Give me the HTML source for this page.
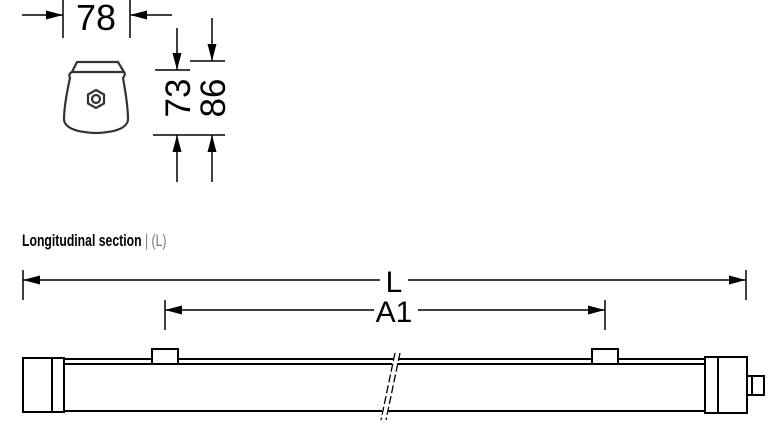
<!DOCTYPE html>
<html><head><style>
body{margin:0;background:#fff;width:772px;height:446px;overflow:hidden}
svg{display:block}
</style></head><body>
<svg width="772" height="446" viewBox="0 0 772 446" xmlns="http://www.w3.org/2000/svg">
<defs>
<marker id="a" viewBox="0 0 10 10" refX="10" refY="5" markerWidth="17" markerHeight="9" markerUnits="userSpaceOnUse" orient="auto" preserveAspectRatio="none"><path d="M0,0L10,5L0,10z" fill="#000"/></marker>
</defs>
<g stroke="#000" stroke-width="1.5" fill="none">
<!-- 78 -->
<line x1="63" y1="0" x2="63" y2="38"/><line x1="130" y1="0" x2="130" y2="38"/>
<line x1="22" y1="15" x2="63" y2="15" marker-end="url(#a)"/>
<line x1="172" y1="15" x2="130" y2="15" marker-end="url(#a)"/>
<!-- profile -->
<g stroke-width="2.2" stroke="#333">
<path d="M77,62 L118,62 L124,72 L72,72 Z"/>
<path d="M72,72 Q68,74 70,78 Q64,105 64,120 Q66,132 96,133 Q126,132 128,120 Q128,105 123,78 Q126,74 124,72"/>
<path d="M96,90 L104,94.5 L104,103.5 L96,108 L88,103.5 L88,94.5 Z"/>
<circle cx="96" cy="99" r="4"/>
</g>
<!-- 73 / 86 -->
<line x1="155" y1="70" x2="190" y2="70"/><line x1="190" y1="61" x2="225" y2="61"/>
<line x1="153" y1="135" x2="225" y2="135"/>
<line x1="177" y1="28" x2="177" y2="70" marker-end="url(#a)"/>
<line x1="212" y1="18" x2="212" y2="61" marker-end="url(#a)"/>
<line x1="177" y1="182" x2="177" y2="135" marker-end="url(#a)"/>
<line x1="212" y1="182" x2="212" y2="135" marker-end="url(#a)"/>
<!-- L -->
<line x1="23" y1="270" x2="23" y2="300"/><line x1="746" y1="270" x2="746" y2="300"/>
<line x1="380" y1="280" x2="23" y2="280" marker-end="url(#a)"/>
<line x1="408" y1="280" x2="746" y2="280" marker-end="url(#a)"/>
<!-- A1 -->
<line x1="165" y1="300" x2="165" y2="330"/><line x1="605" y1="300" x2="605" y2="330"/>
<line x1="374" y1="310" x2="165" y2="310" marker-end="url(#a)"/>
<line x1="418" y1="310" x2="605" y2="310" marker-end="url(#a)"/>
<!-- body -->
<g stroke-width="2">
<line x1="64" y1="359" x2="393" y2="359"/><line x1="64" y1="364" x2="392" y2="364"/>
<line x1="398" y1="359" x2="705" y2="359"/><line x1="397" y1="364" x2="705" y2="364"/>
<line x1="64" y1="411" x2="382" y2="411"/><line x1="388" y1="411" x2="705" y2="411"/>
<rect x="23" y="358" width="41" height="54" fill="#fff"/>
<line x1="52" y1="358" x2="52" y2="412"/>
<rect x="705" y="357" width="42" height="56" fill="#fff"/>
<line x1="718" y1="357" x2="718" y2="413"/>
<rect x="747" y="376" width="17" height="19" fill="#fff"/>
<line x1="752" y1="376" x2="752" y2="395"/>
<rect x="152" y="349" width="26" height="15" fill="#fff"/>
<rect x="592" y="349" width="26" height="15" fill="#fff"/>
</g>
<g stroke-width="1.3" stroke-dasharray="8,3">
<line x1="395" y1="353" x2="381" y2="420"/><line x1="400" y1="353" x2="386" y2="420"/>
</g>
</g>
<g font-family="'Liberation Sans',sans-serif" fill="#000">
<text x="96" y="30" font-size="36" text-anchor="middle">78</text>
<text transform="translate(190,98) rotate(-90)" font-size="35" text-anchor="middle">73</text>
<text transform="translate(225,98) rotate(-90)" font-size="35" text-anchor="middle">86</text>
<text x="394" y="292" font-size="30" text-anchor="middle">L</text>
<text x="394" y="322" font-size="30" text-anchor="middle">A1</text>
</g>
<text x="0" y="0" font-family="'Liberation Sans Narrow','Liberation Sans',sans-serif" font-size="17" font-weight="bold" transform="translate(22,246) scale(0.72,1)">Longitudinal section <tspan font-weight="normal" fill="#777">| (L)</tspan></text>
</svg>
</body></html>
